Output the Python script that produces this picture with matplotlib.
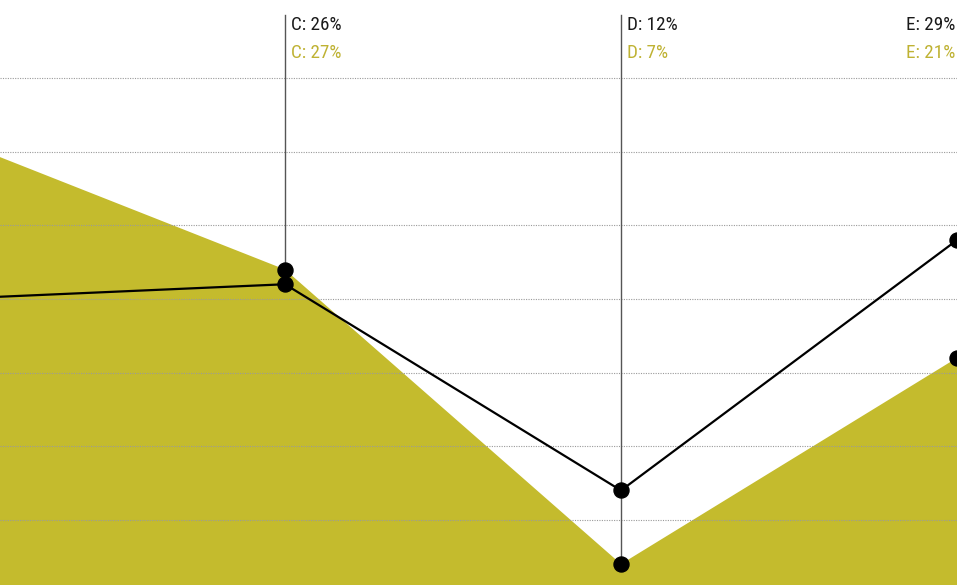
import matplotlib.pyplot as plt
from matplotlib.transforms import offset_copy, blended_transform_factory

# categories and the two series (percent)
categories = ['B', 'C', 'D', 'E']
line_vals = [25, 26, 12, 29]
area_vals = [36, 27, 7, 21]
labelled = ['C', 'D', 'E']
grid_ticks = [10, 15, 20, 25, 30, 35, 40]

gold = '#c4bb2d'
gold_text = '#bfb233'
font = ['Roboto Condensed', 'Liberation Sans Narrow', 'Roboto', 'DejaVu Sans']

fig = plt.figure(figsize=(9.57, 5.85), dpi=100)
ax = fig.add_axes([0, 0, 1, 1])
x = list(range(len(categories)))

ax.set_xlim(0.1518, 3.0)
ax.set_ylim(5.58, 45.30)
ax.axis('off')

# area series
ax.fill_between(x, area_vals, 0, color=gold, linewidth=0, zorder=1)

# dotted horizontal grid, drawn over the area
for g in grid_ticks:
    ax.axhline(g, color='#9a9a9a', lw=0.8, ls=(0, (1, 1.2)), zorder=2)

# line series
ax.plot(x, line_vals, color='black', lw=1.6, solid_joinstyle='round', zorder=3)

# hover guides and labels
trans = blended_transform_factory(ax.transData, ax.transAxes)
for cat in labelled:
    i = categories.index(cat)
    lo = min(line_vals[i], area_vals[i])
    if cat != 'E':
        ax.plot([i, i], [lo, 44.3], color='#555555', lw=1, zorder=2.5)
        tr = offset_copy(trans, fig=fig, x=6, y=0, units='dots')
        ha = 'left'
    else:
        tr = offset_copy(trans, fig=fig, x=-2, y=0, units='dots')
        ha = 'right'
    ax.text(i, 1 - 25 / 585, f'{cat}: {line_vals[i]}%', transform=tr, ha=ha,
            va='center', fontsize=13.8, family=font, color='#1a1a1a')
    ax.text(i, 1 - 53 / 585, f'{cat}: {area_vals[i]}%', transform=tr, ha=ha,
            va='center', fontsize=13.8, family=font, color=gold_text)

# markers for both series
ax.plot(x, area_vals, 'o', color='black', ms=10.8, zorder=4, clip_on=False)
ax.plot(x, line_vals, 'o', color='black', ms=10.8, zorder=4, clip_on=False)

fig.savefig('out.png', dpi=100)
